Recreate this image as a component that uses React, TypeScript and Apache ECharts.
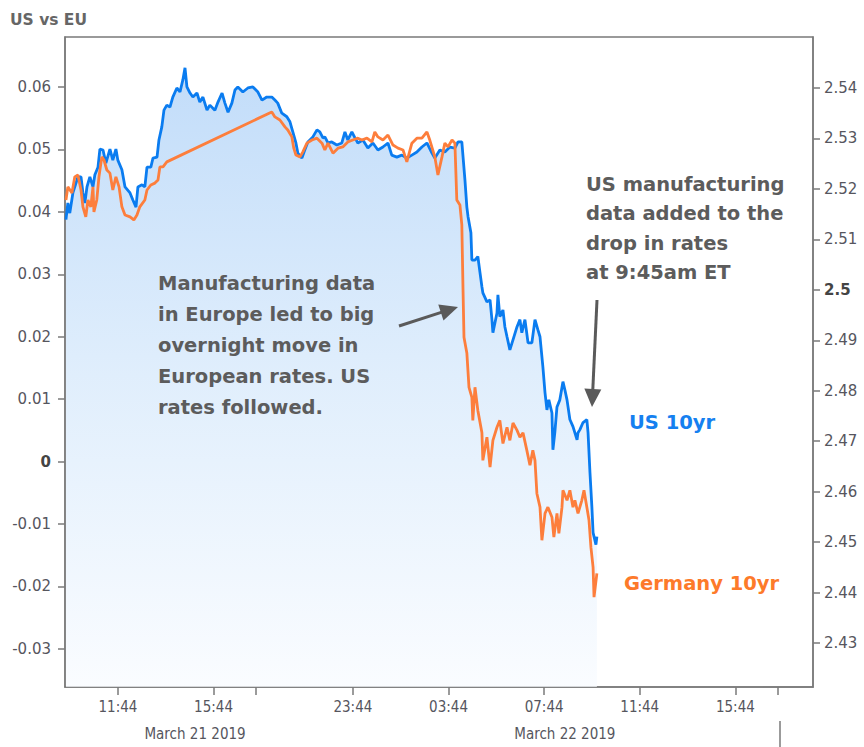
import React, { useEffect, useRef } from "react";
import * as echarts from "echarts";

// ---- time axis (hours since 21 Mar 2019 00:00 ET); non-trading gap is compressed ----
const GAP_START = 17.5;
const GAP_END = 19.67;
const X_MIN_T = 9.52;
const X_MAX_T = 42.98;

const TIME_TICKS_T = [11.733, 15.733, 23.733, 27.733, 31.733, 35.733, 39.733];
const TIME_TICK_LABELS = ["11:44", "15:44", "23:44", "03:44", "07:44", "11:44", "15:44"];
const SESSION_TICKS_T = [17.5, 41.5];
const DATE_LABEL_T = [14.96, 32.6];
const DATE_LABELS = ["March 21 2019", "March 22 2019"];
const DATE_SEPARATOR_T = [41.6];

const LEFT_TICKS = [-0.03, -0.02, -0.01, 0, 0.01, 0.02, 0.03, 0.04, 0.05, 0.06];
const RIGHT_TICKS = [2.43, 2.44, 2.45, 2.46, 2.47, 2.48, 2.49, 2.5, 2.51, 2.52, 2.53, 2.54];

// ---- US 10yr (right axis) ----
const US_T = [9.56, 9.64, 9.72, 9.85, 9.93, 10.06, 10.19, 10.27, 10.35, 10.44, 10.56, 10.69, 10.77, 10.9, 10.98, 11.11, 11.23, 11.4, 11.52, 11.65, 11.73, 11.9, 12.03, 12.24, 12.36, 12.49, 12.57, 12.74, 12.86, 12.95, 13.11, 13.2, 13.37, 13.45, 13.57, 13.66, 13.78, 13.91, 14.03, 14.2, 14.33, 14.45, 14.54, 14.62, 14.75, 14.87, 15.04, 15.16, 15.29, 15.46, 15.58, 15.79, 15.92, 16.09, 16.21, 16.34, 16.5, 16.63, 16.75, 16.96, 17.17, 17.38, 19.76, 19.93, 20.13, 20.34, 20.47, 20.59, 20.76, 20.97, 21.1, 21.22, 21.35, 21.43, 21.6, 21.72, 21.85, 22.06, 22.23, 22.35, 22.48, 22.56, 22.69, 22.85, 23.06, 23.27, 23.4, 23.52, 23.69, 23.82, 23.94, 24.15, 24.36, 24.57, 24.78, 24.99, 25.2, 25.36, 25.57, 25.78, 25.99, 26.2, 26.41, 26.62, 26.83, 27.04, 27.16, 27.37, 27.58, 27.79, 28.0, 28.13, 28.29, 28.42, 28.5, 28.55, 28.67, 28.71, 28.84, 28.96, 29.05, 29.13, 29.17, 29.34, 29.47, 29.55, 29.59, 29.76, 29.8, 29.88, 30.01, 30.09, 30.18, 30.3, 30.43, 30.6, 30.72, 30.8, 30.93, 31.06, 31.22, 31.35, 31.47, 31.56, 31.68, 31.77, 31.85, 31.93, 32.06, 32.1, 32.18, 32.27, 32.39, 32.52, 32.6, 32.69, 32.81, 32.94, 33.11, 33.15, 33.23, 33.36, 33.52, 33.57, 33.65, 33.73, 33.78, 33.9, 33.94];
const US_V = [2.5139, 2.5172, 2.5152, 2.5192, 2.5204, 2.5224, 2.5224, 2.5192, 2.5172, 2.5204, 2.5224, 2.5204, 2.5228, 2.5243, 2.5279, 2.5277, 2.5251, 2.5279, 2.5257, 2.5279, 2.5257, 2.5238, 2.5204, 2.5192, 2.5178, 2.5164, 2.5204, 2.5208, 2.5204, 2.5243, 2.5243, 2.5261, 2.5263, 2.5297, 2.5323, 2.5356, 2.5366, 2.5362, 2.5382, 2.54, 2.5392, 2.5416, 2.544, 2.5402, 2.539, 2.5382, 2.539, 2.5372, 2.5382, 2.5356, 2.5366, 2.5356, 2.5372, 2.539, 2.537, 2.5352, 2.537, 2.5396, 2.5402, 2.5392, 2.54, 2.5402, 2.5392, 2.5376, 2.5382, 2.5382, 2.5376, 2.537, 2.535, 2.5343, 2.5333, 2.5313, 2.5291, 2.5271, 2.5261, 2.5277, 2.5293, 2.5303, 2.5317, 2.5313, 2.5301, 2.5303, 2.5291, 2.5293, 2.5287, 2.5291, 2.5313, 2.5297, 2.5313, 2.5301, 2.5291, 2.5297, 2.5281, 2.5291, 2.5277, 2.5283, 2.5291, 2.5267, 2.5263, 2.5267, 2.5261, 2.5267, 2.5273, 2.5283, 2.5291, 2.5271, 2.5261, 2.5277, 2.5273, 2.5283, 2.5281, 2.5293, 2.5293, 2.5218, 2.5164, 2.5145, 2.5113, 2.5059, 2.5059, 2.5066, 2.5034, 2.5006, 2.4994, 2.4976, 2.498, 2.4941, 2.4915, 2.4954, 2.499, 2.4947, 2.496, 2.4927, 2.4907, 2.4881, 2.4901, 2.4927, 2.4941, 2.4915, 2.4941, 2.4895, 2.4895, 2.4941, 2.4921, 2.4907, 2.4848, 2.4796, 2.4762, 2.4782, 2.4756, 2.4683, 2.4717, 2.4768, 2.4782, 2.4818, 2.4802, 2.4782, 2.4743, 2.4729, 2.4703, 2.4717, 2.4723, 2.4737, 2.4743, 2.4717, 2.4638, 2.457, 2.4519, 2.4495, 2.4511];

// ---- Germany 10yr (left axis) ----
const DE_T = [9.56, 9.64, 9.81, 9.93, 10.06, 10.19, 10.27, 10.39, 10.48, 10.6, 10.69, 10.73, 10.85, 10.94, 11.06, 11.15, 11.27, 11.4, 11.52, 11.65, 11.78, 11.9, 12.03, 12.24, 12.4, 12.53, 12.65, 12.86, 12.95, 13.11, 13.28, 13.41, 13.49, 13.62, 13.78, 20.34, 20.47, 20.68, 20.89, 21.01, 21.18, 21.26, 21.35, 21.52, 21.64, 21.81, 22.02, 22.23, 22.44, 22.56, 22.69, 22.9, 23.11, 23.31, 23.52, 23.73, 23.94, 24.11, 24.32, 24.53, 24.65, 24.78, 24.99, 25.2, 25.41, 25.62, 25.83, 25.99, 26.2, 26.41, 26.62, 26.83, 26.95, 27.16, 27.29, 27.46, 27.58, 27.71, 27.88, 28.0, 28.08, 28.21, 28.29, 28.34, 28.38, 28.5, 28.59, 28.71, 28.75, 28.84, 28.96, 29.13, 29.17, 29.34, 29.47, 29.59, 29.76, 29.88, 30.01, 30.18, 30.3, 30.43, 30.6, 30.72, 30.85, 31.01, 31.14, 31.26, 31.35, 31.43, 31.56, 31.64, 31.77, 31.89, 32.06, 32.14, 32.27, 32.35, 32.48, 32.52, 32.69, 32.81, 32.94, 33.02, 33.15, 33.31, 33.4, 33.52, 33.61, 33.69, 33.78, 33.82, 33.94];
const DE_V = [0.0419, 0.044, 0.043, 0.0456, 0.0459, 0.0435, 0.0408, 0.0392, 0.0419, 0.0408, 0.044, 0.04, 0.0419, 0.0456, 0.0488, 0.0483, 0.0467, 0.0462, 0.0435, 0.0456, 0.044, 0.0408, 0.0395, 0.0392, 0.0387, 0.0395, 0.0408, 0.0419, 0.0435, 0.0443, 0.0446, 0.0451, 0.0472, 0.0472, 0.048, 0.056, 0.0552, 0.0547, 0.0536, 0.0531, 0.052, 0.0502, 0.0491, 0.0488, 0.0496, 0.051, 0.0515, 0.0518, 0.051, 0.0499, 0.051, 0.0494, 0.0502, 0.0504, 0.0512, 0.0515, 0.0518, 0.0515, 0.0518, 0.0512, 0.0528, 0.052, 0.0515, 0.0523, 0.0507, 0.0502, 0.0499, 0.048, 0.051, 0.0518, 0.0518, 0.0528, 0.0515, 0.0488, 0.0459, 0.0488, 0.051, 0.0504, 0.0515, 0.051, 0.0419, 0.0411, 0.0379, 0.0275, 0.0199, 0.0174, 0.0119, 0.0103, 0.0066, 0.0119, 0.0082, 0.0046, 0.0002, 0.0039, -0.0009, 0.0034, 0.0055, 0.0066, 0.0029, 0.0055, 0.0034, 0.0062, 0.005, 0.0039, 0.0046, 0.0018, -0.0006, 0.0018, 0.0002, -0.0051, -0.0073, -0.0126, -0.0083, -0.0073, -0.0089, -0.0121, -0.0083, -0.0115, -0.0073, -0.0046, -0.0062, -0.0046, -0.0073, -0.0062, -0.0083, -0.0062, -0.0046, -0.0073, -0.0094, -0.0137, -0.0169, -0.0217, -0.0179];

// ---- texts ----
const TITLE = "US vs EU";
const NOTE_EU = ["Manufacturing data", "in Europe led to big", "overnight move in", "European rates. US", "rates followed."];
const NOTE_US = ["US manufacturing", "data added to the", "drop in rates", "at 9:45am ET"];
const US_NAME = "US 10yr";
const DE_NAME = "Germany 10yr";

const toAxis = (t: number) =>
  t <= GAP_START ? t : t >= GAP_END ? t - (GAP_END - GAP_START) : GAP_START;

const GRAY = "#5c5c5c";
const AXIS_GRAY = "#7a7a7a";
const LABEL_GRAY = "#56565e";
const BLUE = "#0a7cf0";
const ORANGE = "#fd7e3c";
const BOLD_FONT = '"DejaVu Sans", Verdana, sans-serif';
const NARROW_FONT = '"DejaVu Sans Condensed", "Liberation Sans Narrow", "DejaVu Sans", sans-serif';

function noteLines(lines: string[], x: number, y0: number, step: number) {
  return lines.map((s, i) => ({
    type: "text",
    x,
    y: y0 + i * step,
    z: 100,
    silent: true,
    style: {
      text: s,
      fill: GRAY,
      font: `bold 19.5px ${BOLD_FONT}`,
      align: "left",
      verticalAlign: "middle",
    },
  }));
}

function arrow(x1: number, y1: number, x2: number, y2: number) {
  const dx = x2 - x1;
  const dy = y2 - y1;
  const len = Math.sqrt(dx * dx + dy * dy);
  const ux = dx / len;
  const uy = dy / len;
  const hl = 18;
  const hw = 8.5;
  const bx = x2 - ux * hl;
  const by = y2 - uy * hl;
  return [
    {
      type: "line",
      silent: true,
      z: 100,
      shape: { x1, y1, x2: bx + ux * 2, y2: by + uy * 2 },
      style: { stroke: "#5a5a5a", lineWidth: 3 },
    },
    {
      type: "polygon",
      silent: true,
      z: 100,
      shape: {
        points: [
          [x2, y2],
          [bx - uy * hw, by + ux * hw],
          [bx + uy * hw, by - ux * hw],
        ],
      },
      style: { fill: "#5a5a5a" },
    },
  ];
}

export default function App() {
  const ref = useRef<HTMLDivElement>(null);

  useEffect(() => {
    if (!ref.current) return;
    const chart = echarts.init(ref.current, null, { renderer: "svg" });

    const xMin = toAxis(X_MIN_T);
    const xMax = toAxis(X_MAX_T);
    const labelTicks = TIME_TICKS_T.map(toAxis);
    const allTicks = labelTicks.concat(SESSION_TICKS_T.map(toAxis));
    const dateTicks = DATE_LABEL_T.map(toAxis);

    const usData = US_T.map((t, i) => [toAxis(t), US_V[i]]);
    const deData = DE_T.map((t, i) => [toAxis(t), DE_V[i]]);

    const option: any = {
      animation: false,
      backgroundColor: "#ffffff",
      grid: {
        left: 65,
        right: 51,
        top: 37,
        bottom: 60,
        show: true,
        borderColor: AXIS_GRAY,
        borderWidth: 1.5,
        backgroundColor: "transparent",
      },
      xAxis: [
        {
          type: "value",
          min: xMin,
          max: xMax,
          position: "bottom",
          splitLine: { show: false },
          axisLine: { show: true, onZero: false, lineStyle: { color: AXIS_GRAY, width: 1.5 } },
          axisTick: {
            show: true,
            customValues: allTicks,
            length: 8,
            lineStyle: { color: AXIS_GRAY, width: 1.5 },
          },
          axisLabel: {
            customValues: labelTicks,
            margin: 12,
            color: LABEL_GRAY,
            fontSize: 15,
            fontFamily: NARROW_FONT,
            formatter: (v: number) => {
              const i = labelTicks.findIndex((a) => Math.abs(a - v) < 0.01);
              return i >= 0 ? TIME_TICK_LABELS[i] : "";
            },
          },
        },
        {
          type: "value",
          min: xMin,
          max: xMax,
          position: "bottom",
          offset: 34,
          splitLine: { show: false },
          axisLine: { show: false, onZero: false },
          axisTick: {
            show: true,
            customValues: DATE_SEPARATOR_T.map(toAxis),
            length: 26,
            lineStyle: { color: AXIS_GRAY, width: 1.5 },
          },
          axisLabel: {
            customValues: dateTicks,
            margin: 5,
            color: LABEL_GRAY,
            fontSize: 15,
            fontFamily: NARROW_FONT,
            formatter: (v: number) => {
              const i = dateTicks.findIndex((a) => Math.abs(a - v) < 0.01);
              return i >= 0 ? DATE_LABELS[i] : "";
            },
          },
        },
      ],
      yAxis: [
        {
          type: "value",
          position: "left",
          min: -0.0361,
          max: 0.068,
          splitLine: { show: false },
          axisLine: { show: true, onZero: false, lineStyle: { color: AXIS_GRAY, width: 1.5 } },
          axisTick: {
            show: true,
            customValues: LEFT_TICKS,
            length: 7,
            lineStyle: { color: AXIS_GRAY, width: 1.5 },
          },
          axisLabel: {
            customValues: LEFT_TICKS,
            margin: 14,
            color: LABEL_GRAY,
            fontSize: 15,
            fontFamily: '"DejaVu Sans", sans-serif',
            formatter: (v: number) => {
              const r = Math.round(v * 100) / 100;
              if (Math.abs(r) < 1e-9) return "{b|0}";
              return String(r);
            },
            rich: {
              b: {
                fontWeight: "bold",
                fontSize: 15,
                color: "#444",
                fontFamily: '"DejaVu Sans", sans-serif',
              },
            },
          },
        },
        {
          type: "value",
          position: "right",
          min: 2.4213,
          max: 2.5501,
          splitLine: { show: false },
          axisLine: { show: true, onZero: false, lineStyle: { color: AXIS_GRAY, width: 1.5 } },
          axisTick: {
            show: true,
            customValues: RIGHT_TICKS,
            length: 7,
            lineStyle: { color: AXIS_GRAY, width: 1.5 },
          },
          axisLabel: {
            customValues: RIGHT_TICKS,
            margin: 11,
            color: LABEL_GRAY,
            fontSize: 15,
            fontFamily: '"DejaVu Sans", sans-serif',
            formatter: (v: number) => {
              const r = Math.round(v * 100) / 100;
              if (Math.abs(r - 2.5) < 1e-9) return "{b|2.5}";
              return String(r);
            },
            rich: {
              b: {
                fontWeight: "bold",
                fontSize: 15,
                color: "#444",
                fontFamily: '"DejaVu Sans", sans-serif',
              },
            },
          },
        },
      ],
      series: [
        {
          name: US_NAME,
          type: "line",
          xAxisIndex: 0,
          yAxisIndex: 1,
          data: usData,
          showSymbol: false,
          symbol: "none",
          lineStyle: { color: BLUE, width: 2.8 },
          areaStyle: {
            origin: "start",
            color: new echarts.graphic.LinearGradient(0, 0, 0, 1, [
              { offset: 0, color: "#a8cef7" },
              { offset: 0.5, color: "#d3e7fb" },
              { offset: 1, color: "#f8fbff" },
            ]),
          },
          z: 2,
        },
        {
          name: DE_NAME,
          type: "line",
          xAxisIndex: 0,
          yAxisIndex: 0,
          data: deData,
          showSymbol: false,
          symbol: "none",
          lineStyle: { color: ORANGE, width: 2.8 },
          z: 3,
        },
      ],
      graphic: [
        {
          type: "text",
          x: 10,
          y: 20,
          z: 100,
          silent: true,
          style: {
            text: TITLE,
            fill: "#666",
            font: `bold 15.5px ${BOLD_FONT}`,
            align: "left",
            verticalAlign: "middle",
          },
        },
        ...noteLines(NOTE_EU, 158, 283, 31),
        ...noteLines(NOTE_US, 586, 184, 29.5),
        ...arrow(399, 326, 458, 307),
        ...arrow(597, 300, 592, 407),
        {
          type: "text",
          x: 629,
          y: 422,
          z: 100,
          silent: true,
          style: {
            text: US_NAME,
            fill: "#1580f0",
            font: `bold 19.5px ${BOLD_FONT}`,
            align: "left",
            verticalAlign: "middle",
          },
        },
        {
          type: "text",
          x: 624,
          y: 583,
          z: 100,
          silent: true,
          style: {
            text: DE_NAME,
            fill: "#fd7a2a",
            font: `bold 19.5px ${BOLD_FONT}`,
            align: "left",
            verticalAlign: "middle",
          },
        },
      ],
    };

    chart.setOption(option);
    return () => chart.dispose();
  }, []);

  return (
    <div
      ref={ref}
      style={{ position: "fixed", left: 0, top: 0, width: 864, height: 747, background: "#fff" }}
    />
  );
}
